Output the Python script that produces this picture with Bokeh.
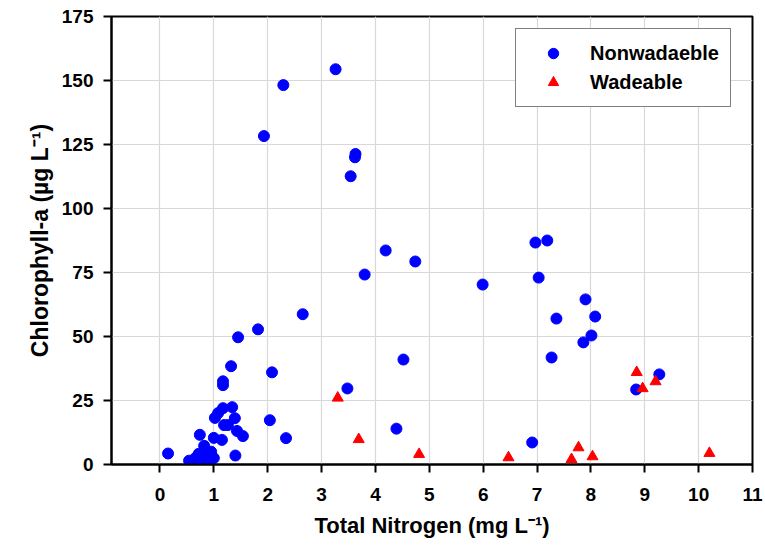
from bokeh.plotting import figure
from bokeh.models import Range1d, FixedTicker, Legend, LegendItem
from bokeh.embed import file_html
from bokeh.resources import INLINE

# Nonwadeable sites: total nitrogen (mg/L) and chlorophyll-a (ug/L)
nw_tn = [0.15, 0.54, 0.60, 0.66, 0.72, 0.76, 0.82, 0.85, 0.91, 0.95, 1.00,
         0.74, 1.00, 1.15, 1.40, 1.02, 1.08, 1.17, 1.34, 1.39, 1.19, 1.26,
         1.43, 1.54, 1.17, 1.17, 1.32, 1.45, 1.82, 2.08, 2.04, 2.34, 2.65,
         1.93, 2.29, 3.26, 3.63, 3.62, 3.54, 3.48, 4.39, 4.52, 4.19, 4.74,
         3.80, 5.99, 6.97, 7.19, 7.03, 7.90, 7.36, 8.08, 8.01, 7.86, 7.27,
         6.91, 8.84, 9.27]
nw_chl = [4.3, 1.5, 0.8, 2.6, 4.2, 1.3, 7.3, 5.0, 2.0, 5.0, 2.5,
          11.6, 10.4, 9.6, 3.5, 18.2, 20.1, 22.0, 22.4, 18.1, 15.4, 15.4,
          13.1, 11.1, 32.5, 31.0, 38.4, 49.7, 52.8, 36.0, 17.3, 10.3, 58.7,
          128.3, 148.2, 154.4, 121.3, 120.0, 112.6, 29.7, 14.0, 41.0, 83.6, 79.3,
          74.2, 70.3, 86.7, 87.5, 73.0, 64.5, 57.0, 57.8, 50.4, 47.7, 41.8,
          8.6, 29.3, 35.2]

# Wadeable sites
w_tn = [3.30, 3.69, 4.81, 6.47, 7.64, 7.77, 8.03, 8.85, 8.96, 9.20, 10.20]
w_chl = [26.0, 9.8, 4.0, 2.7, 2.0, 6.6, 3.1, 36.0, 29.7, 32.4, 4.4]

x_ticks = list(range(0, 12))
y_ticks = [0, 25, 50, 75, 100, 125, 150, 175]

FONT = "Liberation Sans"

p = figure(width=765, height=550, output_backend="svg", toolbar_location=None,
           x_range=Range1d(-0.9, 11), y_range=Range1d(0, 175),
           min_border_left=111, min_border_right=13, min_border_top=16,
           min_border_bottom=86)

p.background_fill_color = "white"
p.border_fill_color = "white"
p.outline_line_color = "black"
p.outline_line_width = 2

for ax in (p.xaxis[0], p.yaxis[0]):
    ax.axis_line_width = 2
    ax.axis_line_color = "black"
    ax.major_tick_line_width = 2
    ax.major_tick_line_color = "black"
    ax.major_tick_in = 0
    ax.major_tick_out = 8
    ax.minor_tick_line_color = None
    ax.major_label_text_font = FONT
    ax.major_label_text_font_style = "bold"
    ax.major_label_text_font_size = "19px"
    ax.major_label_text_color = "black"
    ax.axis_label_text_font = FONT
    ax.axis_label_text_font_style = "bold"
    ax.axis_label_text_color = "black"

p.xaxis.axis_label_text_font_size = "22px"
p.yaxis.axis_label_text_font_size = "23px"
p.xaxis.ticker = FixedTicker(ticks=x_ticks)
p.yaxis.ticker = FixedTicker(ticks=y_ticks)
p.xaxis.axis_label = "Total Nitrogen (mg L\u207b\u00b9)"
p.yaxis.axis_label = "Chlorophyll-a (\u00b5g L\u207b\u00b9)"
p.xaxis.major_label_standoff = 15
p.yaxis.major_label_standoff = 10
p.xaxis.axis_label_standoff = 9
p.yaxis.axis_label_standoff = 6

p.xgrid.ticker = FixedTicker(ticks=x_ticks)
p.ygrid.ticker = FixedTicker(ticks=y_ticks)
p.grid.grid_line_color = "#d8d8d8"
p.grid.grid_line_width = 1.2

r_nw = p.scatter(nw_tn, nw_chl, marker="circle", size=11,
                 fill_color="#0000ff", line_color="#0000ff")
r_w = p.scatter(w_tn, w_chl, marker="triangle", size=11,
                fill_color="#ff0000", line_color="#ff0000")

legend = Legend(items=[LegendItem(label="Nonwadaeble", renderers=[r_nw]),
                       LegendItem(label="Wadeable", renderers=[r_w])],
                location=(404, 357))
legend.label_text_font = FONT
legend.label_text_font_style = "bold"
legend.label_text_font_size = "20px"
legend.label_text_color = "black"
legend.border_line_color = "black"
legend.border_line_width = 1.5
legend.background_fill_color = "white"
legend.background_fill_alpha = 1
legend.padding = 11
legend.spacing = 3
legend.glyph_width = 52
legend.glyph_height = 26
legend.label_height = 26
legend.label_standoff = 11
legend.margin = 0
p.add_layout(legend, "center")

open("out.html", "w").write(file_html(p, INLINE))
